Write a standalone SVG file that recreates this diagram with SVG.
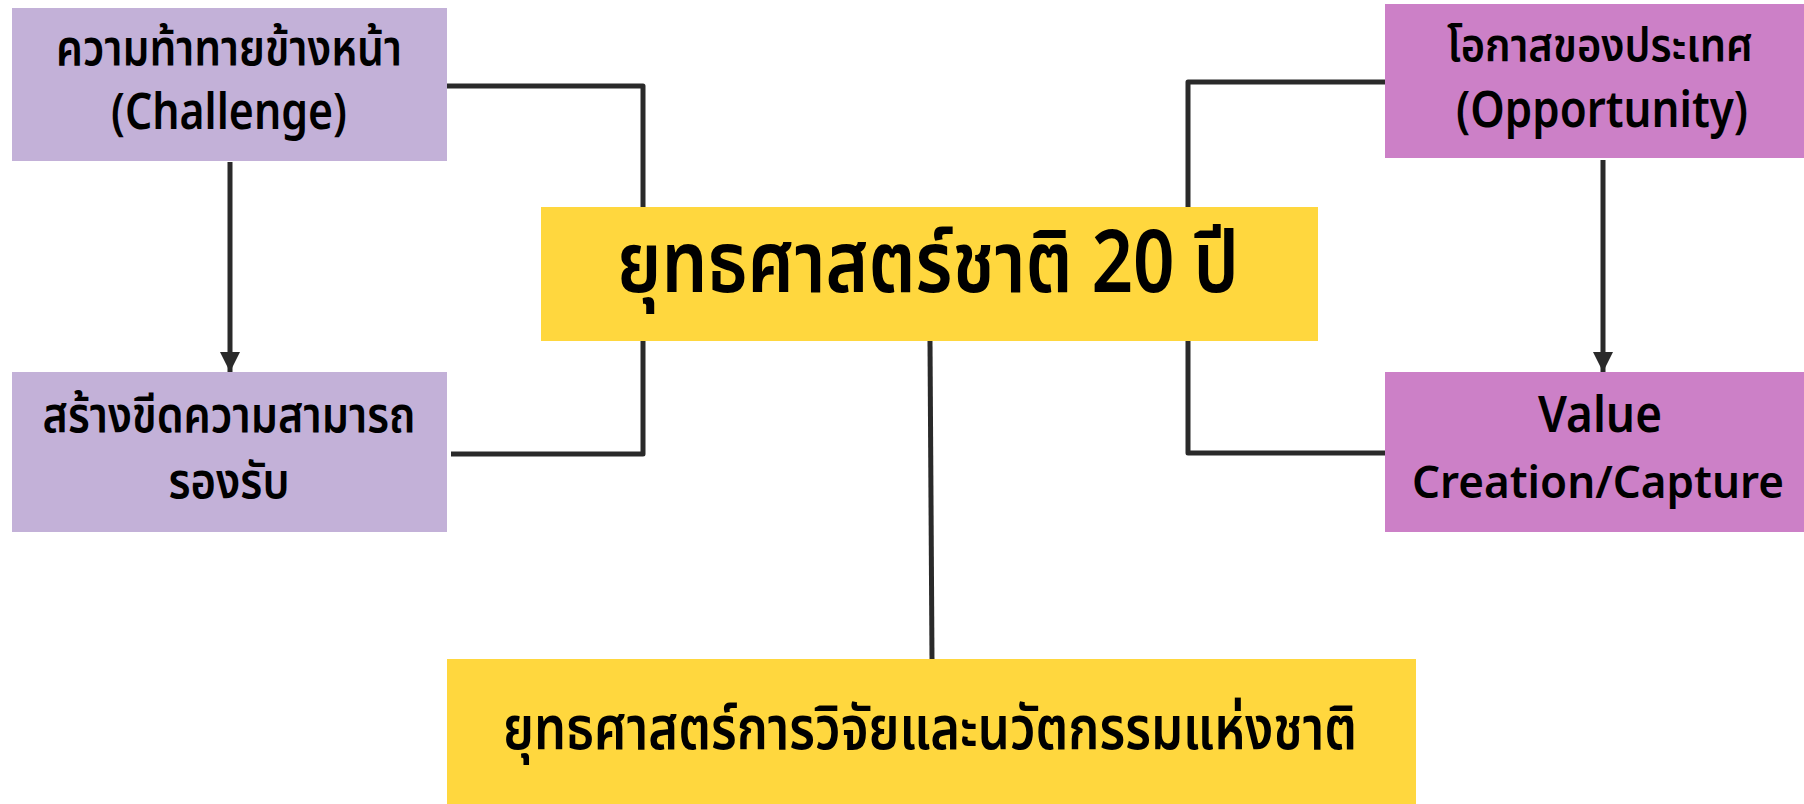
<svg xmlns="http://www.w3.org/2000/svg" width="1804" height="804" viewBox="0 0 1804 804">
<defs>
<style>
.t{font-family:"Noto Sans","Noto Sans Thai","Liberation Sans",sans-serif;fill:#000;text-anchor:middle;font-weight:600}
.s{font-size:50px}
.c{stroke:#2a2a2a;stroke-width:5;fill:none;stroke-linejoin:round}
.lav{fill:#C3B1D8}
.pnk{fill:#CC80C7}
.yel{fill:#FFD73E}
</style>
<marker id="ah" viewBox="0 0 10 10" refX="10" refY="5" markerWidth="4" markerHeight="4" markerUnits="strokeWidth" orient="auto">
<path d="M0,0 L10,5 L0,10 z" fill="#2a2a2a"/>
</marker>
</defs>
<rect width="1804" height="804" fill="#fff"/>
<g id="connectors">
<polyline class="c" points="447,86 643,86 643,208"/>
<polyline class="c" points="451,454 643,454 643,340"/>
<polyline class="c" points="1385,82 1188,82 1188,208"/>
<polyline class="c" points="1385,453 1188,453 1188,340"/>
<line class="c" x1="930" y1="341" x2="932" y2="660"/>
<line class="c" x1="230" y1="162" x2="230" y2="372" marker-end="url(#ah)"/>
<line class="c" x1="1603" y1="160" x2="1603" y2="372" marker-end="url(#ah)"/>
</g>
<g id="challenge">
<rect class="lav" x="12" y="8" width="435" height="153"/>
<text class="t s" x="229" y="65" textLength="346" lengthAdjust="spacingAndGlyphs">ความท้าทายข้างหน้า</text>
<text class="t s" x="229" y="129" textLength="236" lengthAdjust="spacingAndGlyphs">(Challenge)</text>
</g>
<g id="capability">
<rect class="lav" x="12" y="372" width="435" height="160"/>
<text class="t s" x="229" y="432" textLength="373" lengthAdjust="spacingAndGlyphs">สร้างขีดความสามารถ</text>
<text class="t s" x="229" y="498" textLength="121" lengthAdjust="spacingAndGlyphs">รองรับ</text>
</g>
<g id="opportunity">
<rect class="pnk" x="1385" y="4" width="419" height="154"/>
<text class="t" x="1600" y="61" font-size="46" textLength="306" lengthAdjust="spacingAndGlyphs">โอกาสของประเทศ</text>
<text class="t s" x="1602" y="127" textLength="292" lengthAdjust="spacingAndGlyphs">(Opportunity)</text>
</g>
<g id="value">
<rect class="pnk" x="1385" y="372" width="419" height="160"/>
<text class="t s" x="1600" y="432" textLength="124" lengthAdjust="spacingAndGlyphs">Value</text>
<text class="t" x="1598" y="498" font-size="45" textLength="372" lengthAdjust="spacingAndGlyphs">Creation/Capture</text>
</g>
<g id="strategy20">
<rect class="yel" x="541" y="207" width="777" height="134"/>
<text class="t" x="928" y="292" font-size="86" textLength="622" lengthAdjust="spacingAndGlyphs">ยุทธศาสตร์ชาติ 20 ปี</text>
</g>
<g id="research">
<rect class="yel" x="447" y="659" width="969" height="145"/>
<text class="t" x="930" y="749" font-size="60" textLength="854" lengthAdjust="spacingAndGlyphs">ยุทธศาสตร์การวิจัยและนวัตกรรมแห่งชาติ</text>
</g>
</svg>
